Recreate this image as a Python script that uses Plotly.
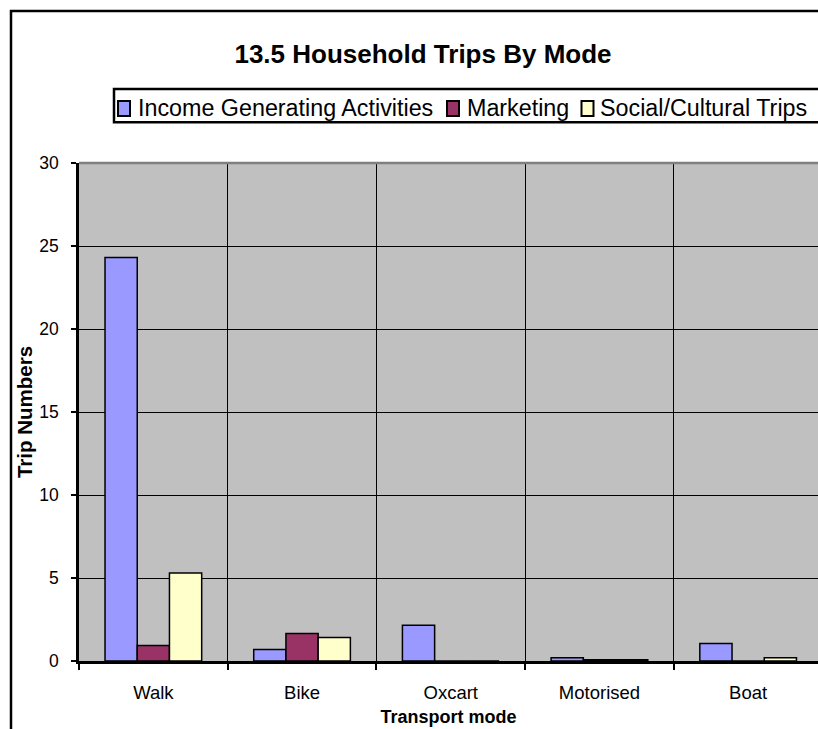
import plotly.graph_objects as go

categories = ["Walk", "Bike", "Oxcart", "Motorised", "Boat"]
income = [24.3, 0.7, 2.15, 0.2, 1.05]
marketing = [0.93, 1.65, 0.0, 0.08, 0.0]
social = [5.3, 1.42, 0.0, 0.08, 0.2]
series_names = ["Income Generating Activities", "Marketing", "Social/Cultural Trips"]
series_colors = ["#9999FF", "#993366", "#FFFFCC"]
y_ticks = [0, 5, 10, 15, 20, 25, 30]

FONT = "Liberation Sans, Arial, sans-serif"
W, H = 818, 729
ML, MR, MT, MB = 79, 0, 163, 68
PW = W - ML - MR
PH = H - MT - MB
CAT_PX = 148.7  # pixel width of one category slot in the reference


def px_x(x):
    return (x - ML) / PW


def px_y(y):
    return (H - MB - y) / PH


fig = go.Figure()
for name, vals, col in zip(series_names, [income, marketing, social], series_colors):
    fig.add_trace(go.Bar(
        x=categories, y=vals, name=name,
        marker=dict(color=col, line=dict(color="black", width=1.5)),
        showlegend=False,
    ))

# Legend (drawn like the Excel legend: small boxed swatches, text right after)
leg_marker_left = [118, 447, 581.5]
leg_text_left = [136, 465, 598]
leg_y_top, leg_y_bot = 89, 122.3
shapes = [
    # outer chart border (left and top visible)
    dict(type="rect", xref="paper", yref="paper",
         x0=px_x(11), x1=px_x(W + 20), y0=px_y(H + 20), y1=px_y(11),
         line=dict(color="black", width=2.5), fillcolor="rgba(0,0,0,0)", layer="above"),
    # plot area top border
    dict(type="line", xref="paper", yref="paper",
         x0=0, x1=1, y0=1, y1=1,
         line=dict(color="#808080", width=2.5), layer="above"),
    # legend box
    dict(type="rect", xref="paper", yref="paper",
         x0=px_x(114), x1=px_x(W + 20), y0=px_y(leg_y_bot), y1=px_y(leg_y_top),
         line=dict(color="black", width=2.5), fillcolor="white", layer="above"),
]
annotations = []
for name, col, mx, tx in zip(series_names, series_colors, leg_marker_left, leg_text_left):
    shapes.append(dict(type="rect", xref="paper", yref="paper",
                       x0=px_x(mx), x1=px_x(mx + 12), y0=px_y(116), y1=px_y(101),
                       line=dict(color="black", width=2), fillcolor=col, layer="above"))
    annotations.append(dict(text=name, xref="paper", yref="paper",
                            x=px_x(tx), y=px_y(108), xanchor="left", yanchor="middle",
                            showarrow=False,
                            font=dict(size=23.3, family=FONT, color="black")))

fig.update_layout(
    width=W, height=H,
    margin=dict(l=ML, r=MR, t=MT, b=MB, autoexpand=False),
    paper_bgcolor="white",
    plot_bgcolor="#C0C0C0",
    barmode="group",
    bargap=0.35,
    bargroupgap=0,
    showlegend=False,
    font=dict(family=FONT, color="black"),
    title=dict(
        text="<b>13.5 Household Trips By Mode</b>",
        x=423 / W, xref="container", xanchor="center",
        y=1 - 54 / H, yref="container", yanchor="middle",
        font=dict(size=26, family=FONT, color="black"),
    ),
    xaxis=dict(
        type="category",
        range=[-0.5, -0.5 + PW / CAT_PX],
        tickson="boundaries",
        showgrid=True, gridcolor="black", gridwidth=1,
        showline=True, linecolor="black", linewidth=2.5,
        ticks="outside", ticklen=6, tickwidth=1.5, tickcolor="black",
        ticklabelstandoff=13,
        tickfont=dict(size=18.5, family=FONT, color="black"),
        title=dict(text="<b>Transport mode</b>", standoff=9,
                   font=dict(size=18, family=FONT, color="black")),
        fixedrange=True,
    ),
    yaxis=dict(
        range=[0, 30],
        tickvals=y_ticks,
        showgrid=True, gridcolor="black", gridwidth=1,
        showline=True, linecolor="black", linewidth=2.5,
        ticks="outside", ticklen=5, tickwidth=1.5, tickcolor="black",
        ticklabelstandoff=9,
        tickfont=dict(size=17.5, family=FONT, color="black"),
        title=dict(text="<b>Trip Numbers</b>", standoff=2,
                   font=dict(size=20.5, family=FONT, color="black")),
        zeroline=False,
        fixedrange=True,
    ),
    shapes=shapes,
    annotations=annotations,
)

fig.write_html("out.html")
